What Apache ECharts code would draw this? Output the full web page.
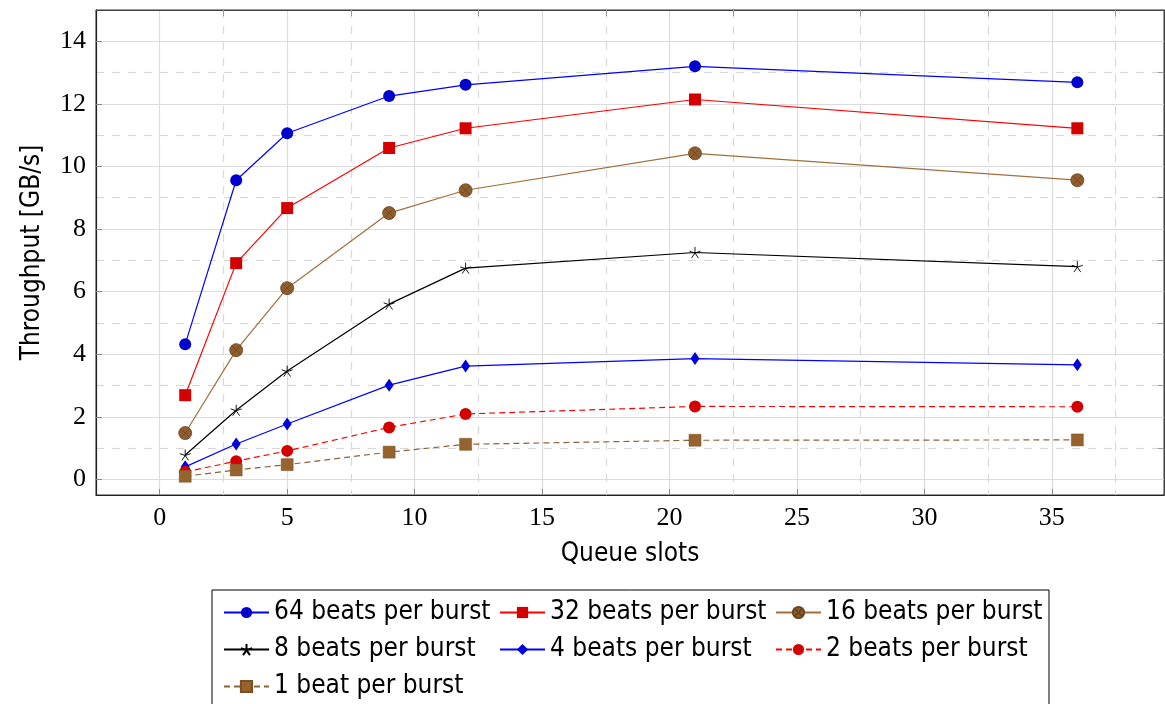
<!DOCTYPE html>
<html>
<head>
<meta charset="utf-8">
<script src="https://cdn.jsdelivr.net/npm/echarts@6/dist/echarts.min.js"></script>
<style>
  html, body { margin: 0; padding: 0; background: #fff; }
  #chart { width: 1165px; height: 704px; }
</style>
</head>
<body>
<div id="chart"></div>
<script>
// queue slots on the x axis
const queueSlots = [1, 3, 5, 9, 12, 21, 36];

// throughput in GB/s, one list per burst length
const beats64 = [4.32, 9.56, 11.06, 12.25, 12.61, 13.2, 12.69];
const beats32 = [2.69, 6.91, 8.67, 10.59, 11.22, 12.14, 11.22];
const beats16 = [1.48, 4.13, 6.11, 8.51, 9.24, 10.42, 9.56];
const beats8 = [0.78, 2.21, 3.46, 5.6, 6.75, 7.25, 6.8];
const beats4 = [0.4, 1.13, 1.77, 3.01, 3.62, 3.86, 3.66];
const beats2 = [0.24, 0.58, 0.91, 1.66, 2.09, 2.33, 2.32];
const beats1 = [0.1, 0.3, 0.47, 0.87, 1.12, 1.25, 1.26];

const xTicks = [0, 5, 10, 15, 20, 25, 30, 35];
const xMinorTicks = [2.5, 7.5, 12.5, 17.5, 22.5, 27.5, 32.5, 37.5];
const yTicks = [0, 2, 4, 6, 8, 10, 12, 14];
const yMinorTicks = [1, 3, 5, 7, 9, 11, 13];

const sansFont = '"DejaVu Sans Condensed", "DejaVu Sans", sans-serif';
const serifFont = '"Liberation Serif", serif';

const pair = (ys) => queueSlots.map((x, i) => [x, ys[i]]);

const chartDom = document.getElementById('chart');
const myChart = echarts.init(chartDom);

// pgfplots-like marks
const starPath = 'path://M0,0L0,-10M0,0L9.51,-3.09M0,0L5.88,8.09M0,0L-5.88,8.09M0,0L-9.51,-3.09';
const otimesPath = 'path://M10,0A10,10 0 1 1 -10,0A10,10 0 1 1 10,0ZM-7.07,-7.07L7.07,7.07M-7.07,7.07L7.07,-7.07';

const mkSeries = (name, data, lineColor, markColor, symbol, size, dashed, extra) => ({
  name: name,
  type: 'line',
  data: pair(data),
  symbol: symbol,
  symbolSize: size,
  showAllSymbol: true,
  lineStyle: { color: lineColor, width: 1.2, type: dashed ? [6, 4] : 'solid' },
  itemStyle: Object.assign({ color: markColor }, extra || {}),
  emphasis: { disabled: true }
});

const option = {
  animation: false,
  backgroundColor: '#fff',
  grid: {
    left: 96, right: 1, top: 10, bottom: 209,
    show: true, borderColor: '#333', borderWidth: 1
  },
  xAxis: [
    {
      type: 'value', min: -2.5, max: 39.4, position: 'bottom',
      name: 'Queue slots', nameLocation: 'middle', nameGap: 46,
      nameTextStyle: { fontFamily: sansFont, fontSize: 26, color: '#000' },
      axisLine: { show: true, onZero: false, lineStyle: { color: '#222', width: 1.2 } },
      axisTick: { show: true, inside: true, length: 6, customValues: xTicks, lineStyle: { color: '#888' } },
      axisLabel: { customValues: xTicks, margin: 10, fontFamily: serifFont, fontSize: 26, color: '#000' },
      splitLine: { show: true, lineStyle: { color: '#dcdcdc', width: 1.2 } }
    },
    {
      type: 'value', min: -2.5, max: 39.4, position: 'top',
      axisLine: { show: true, onZero: false, lineStyle: { color: '#444' } },
      axisTick: { show: true, inside: true, length: 6, customValues: xMinorTicks, lineStyle: { color: '#999' } },
      axisLabel: { show: false },
      splitLine: { show: true, lineStyle: { color: '#d8d8d8', width: 1.2, type: [8, 8] } }
    }
  ],
  yAxis: [
    {
      type: 'value', min: -0.5, max: 15, position: 'left',
      name: 'Throughput [GB/s]', nameLocation: 'middle', nameGap: 51,
      nameTextStyle: { fontFamily: sansFont, fontSize: 26, color: '#000' },
      axisLine: { show: true, onZero: false, lineStyle: { color: '#222', width: 1.2 } },
      axisTick: { show: true, inside: true, length: 6, customValues: yTicks, lineStyle: { color: '#888' } },
      axisLabel: { customValues: yTicks, margin: 10, fontFamily: serifFont, fontSize: 26, color: '#000' },
      splitLine: { show: true, lineStyle: { color: '#dcdcdc', width: 1.2 } }
    },
    {
      type: 'value', min: -0.5, max: 15, position: 'right',
      axisLine: { show: true, onZero: false, lineStyle: { color: '#444' } },
      axisTick: { show: true, inside: true, length: 6, customValues: yMinorTicks, lineStyle: { color: '#999' } },
      axisLabel: { show: false },
      splitLine: { show: true, lineStyle: { color: '#d8d8d8', width: 1.2, type: [8, 8] } }
    }
  ],
  legend: {
    left: 212, top: 590, width: 820,
    padding: [8, 6, 8, 11],
    borderColor: '#000', borderWidth: 1,
    itemWidth: 45, itemHeight: 14, itemGap: 8,
    textStyle: { fontFamily: sansFont, fontSize: 26, lineHeight: 29, color: '#000', width: 217 },
    data: ['64 beats per burst', '32 beats per burst', '16 beats per burst',
           '8 beats per burst', '4 beats per burst', '2 beats per burst',
           '1 beat per burst']
  },
  series: [
    mkSeries('64 beats per burst', beats64, '#0000ff', '#0000cc', 'circle', 12, false),
    mkSeries('32 beats per burst', beats32, '#ff0000', '#d40000', 'rect', 12, false),
    mkSeries('16 beats per burst', beats16, '#a0703c', '#8f5e2e', otimesPath, 13, false,
      { borderColor: '#6b4420', borderWidth: 0.8 }),
    mkSeries('8 beats per burst', beats8, '#000000', '#000000', starPath, 11, false,
      { borderColor: '#000', borderWidth: 0.9 }),
    mkSeries('4 beats per burst', beats4, '#0000ff', '#0000dd', 'diamond', [9, 13], false),
    mkSeries('2 beats per burst', beats2, '#ff0000', '#d40000', 'circle', 12, true),
    mkSeries('1 beat per burst', beats1, '#8c6239', '#96632f', 'rect', 12, true,
      { borderColor: '#7a4f24', borderWidth: 0.5 })
  ]
};

option && myChart.setOption(option);
</script>
</body>
</html>
